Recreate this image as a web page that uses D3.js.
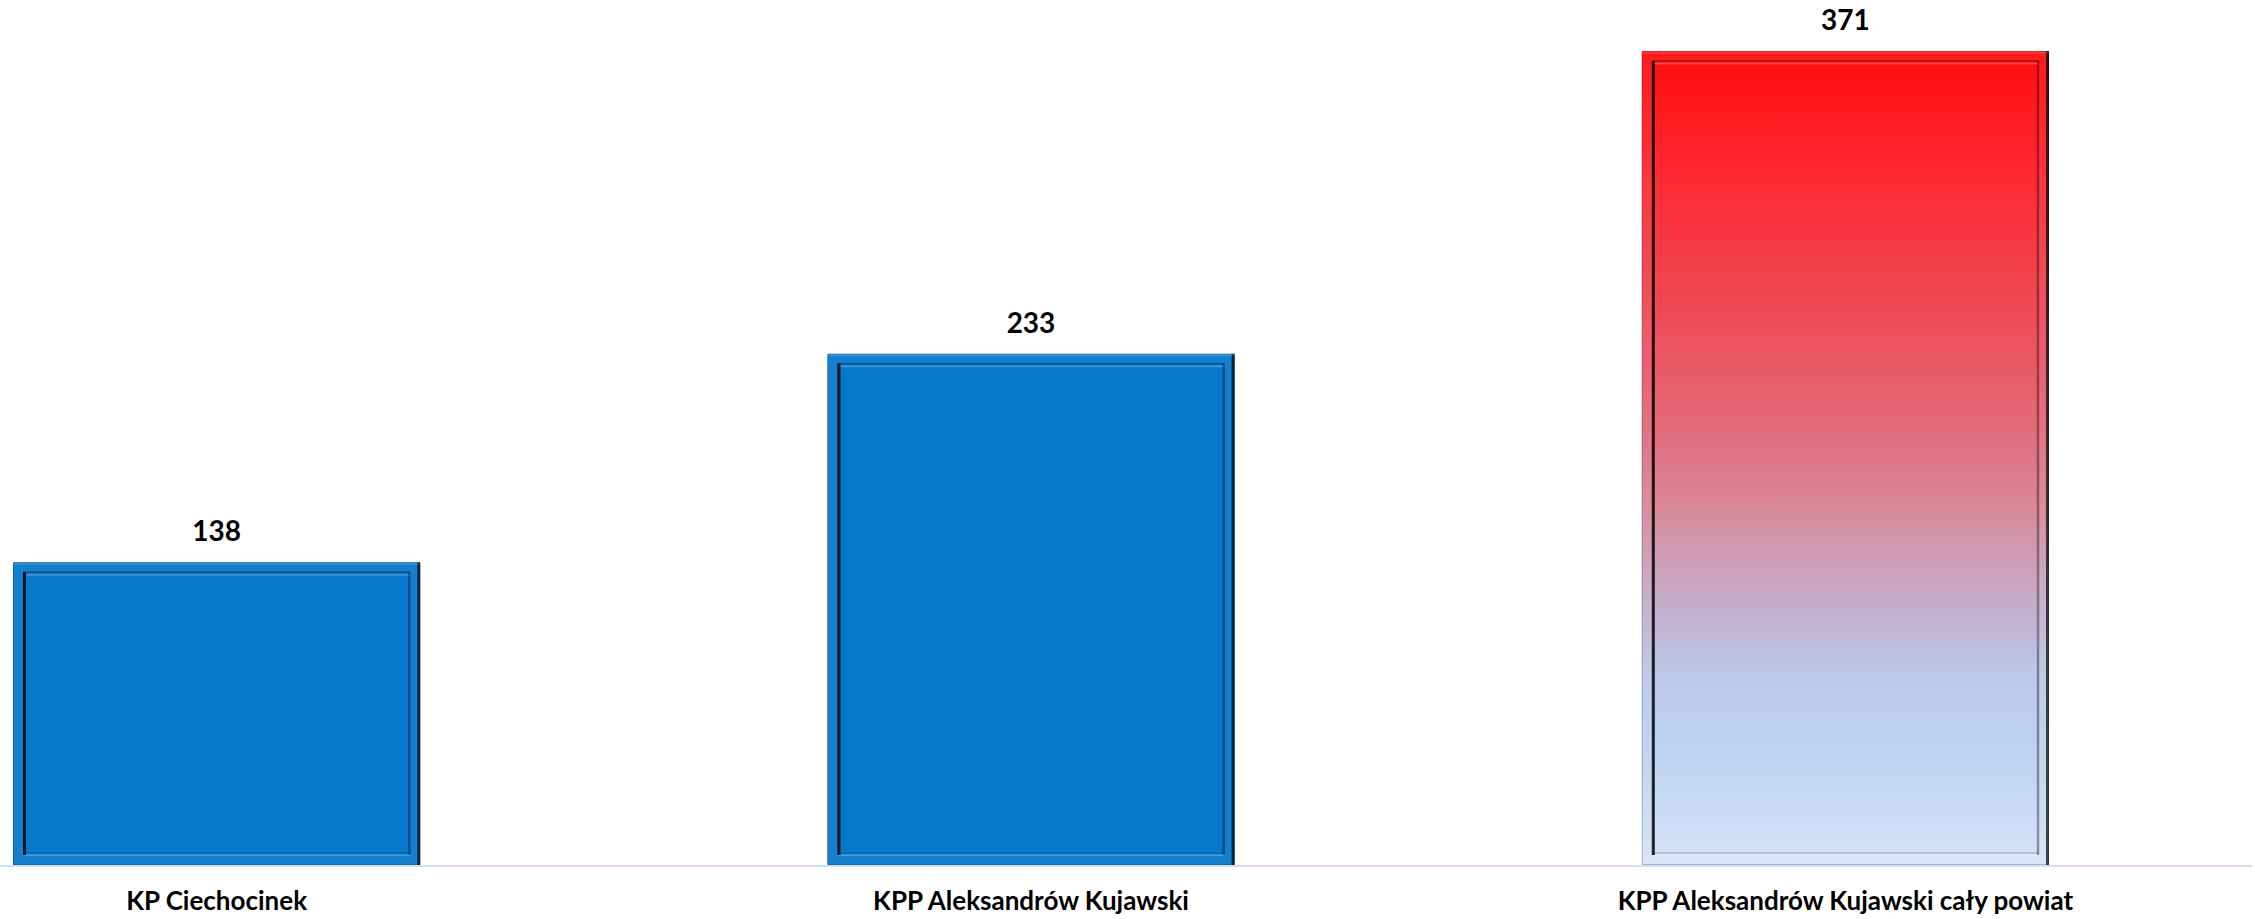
<!DOCTYPE html>
<html>
<head>
<meta charset="utf-8">
<script src="https://cdn.jsdelivr.net/npm/d3@7"></script>
<style>
html,body{margin:0;padding:0;background:#fff;}
svg{display:block;}
</style>
</head>
<body>
<svg id="chart" width="2255" height="919"></svg>
<script>
const categories = ["KP Ciechocinek", "KPP Aleksandrów Kujawski", "KPP Aleksandrów Kujawski cały powiat"];
const values = [138, 233, 371];
const fills = ["blue", "blue", "gradient"];

const W = 2255, H = 919;
const svg = d3.select("#chart");
const defs = svg.append("defs");

const grad = defs.append("linearGradient").attr("id", "redGrad")
  .attr("x1", 0).attr("y1", 0).attr("x2", 0).attr("y2", 1);
[[0, "#ff0c0c"], [0.15, "#ff2832"], [0.3, "#f04652"], [0.45, "#e46676"], [0.55, "#da8496"],
 [0.64, "#cca2ba"], [0.7, "#c2b4d2"], [0.77, "#bbc9e8"], [0.85, "#bdd2ef"], [0.93, "#c8dbf4"], [1, "#d6e5f9"]]
  .forEach(([o, c]) => grad.append("stop").attr("offset", o).attr("stop-color", c));

const x = d3.scaleBand().domain(categories).range([13, 2049]).paddingInner(0.5).paddingOuter(0);
const y = d3.scaleLinear().domain([0, 371]).range([865, 51]);

// baseline axis
svg.append("line").attr("x1", 0).attr("x2", 2252).attr("y1", y(0) + 1).attr("y2", y(0) + 1)
  .attr("stroke", "#d3def0").attr("stroke-width", 2);

const bw = x.bandwidth();
const inset = 10;

const bars = svg.selectAll("g.bar").data(categories).enter().append("g").attr("class", "bar");

bars.each(function(c, i) {
  const g = d3.select(this);
  const x0 = x(c), x1 = x0 + bw, y0 = y(values[i]), y1 = y(0);
  const fill = fills[i] === "blue" ? "#0678cc" : "url(#redGrad)";
  g.append("rect").attr("x", x0).attr("y", y0).attr("width", bw).attr("height", y1 - y0)
    .attr("fill", fill);
  g.append("path")
    .attr("d", `M${x0},${y0}H${x1}V${y1}H${x0}Z M${x0+inset},${y0+inset}V${y1-inset}H${x1-inset}V${y0+inset}Z`)
    .attr("fill", "rgba(255,255,255,0.06)").attr("fill-rule", "evenodd");
  g.append("rect").attr("x", x0 + 0.5).attr("y", y0 + 0.5).attr("width", bw - 1).attr("height", y1 - y0 - 1)
    .attr("fill", "none").attr("stroke", "rgba(0,40,80,0.25)").attr("stroke-width", 1);
  g.append("line").attr("x1", x0 + inset).attr("x2", x1 - inset).attr("y1", y0 + inset).attr("y2", y0 + inset)
    .attr("stroke", "rgba(0,0,0,0.28)").attr("stroke-width", 2);
  g.append("line").attr("x1", x0 + inset + 2).attr("x2", x1 - inset).attr("y1", y0 + inset + 2.5).attr("y2", y0 + inset + 2.5)
    .attr("stroke", "rgba(255,255,255,0.22)").attr("stroke-width", 2);
  g.append("line").attr("x1", x0 + inset).attr("x2", x1 - inset).attr("y1", y1 - inset - 2).attr("y2", y1 - inset - 2)
    .attr("stroke", "rgba(0,0,0,0.18)").attr("stroke-width", 1.5);
  g.append("line").attr("x1", x0 + inset).attr("x2", x1 - inset).attr("y1", y1 - inset).attr("y2", y1 - inset)
    .attr("stroke", "rgba(255,255,255,0.2)").attr("stroke-width", 2);
  g.append("line").attr("x1", x1 - inset - 1).attr("x2", x1 - inset - 1).attr("y1", y0 + inset).attr("y2", y1 - inset)
    .attr("stroke", "rgba(0,0,0,0.35)").attr("stroke-width", 2.5);
  g.append("line").attr("x1", x0 + inset + 1.5).attr("x2", x0 + inset + 1.5).attr("y1", y0 + inset).attr("y2", y1 - inset)
    .attr("stroke", "rgba(0,0,0,0.85)").attr("stroke-width", 3);
  g.append("line").attr("x1", x1 - 1.5).attr("x2", x1 - 1.5).attr("y1", y0).attr("y2", y1)
    .attr("stroke", "rgba(0,0,0,0.7)").attr("stroke-width", 3);
  g.append("line").attr("x1", x0).attr("x2", x1).attr("y1", y0 + 1.5).attr("y2", y0 + 1.5)
    .attr("stroke", "rgba(255,255,255,0.15)").attr("stroke-width", 2);
});

svg.selectAll("text.val").data(categories).enter().append("text").attr("class", "val")
  .attr("x", c => x(c) + bw / 2)
  .attr("y", (c, i) => y(values[i]) - 21)
  .attr("text-anchor", "middle")
  .attr("font-family", "Lato, 'Open Sans', sans-serif")
  .attr("font-weight", "bold")
  .attr("font-size", 28)
  .attr("fill", "#000")
  .text((c, i) => values[i]);

svg.selectAll("text.cat").data(categories).enter().append("text").attr("class", "cat")
  .attr("x", c => x(c) + bw / 2)
  .attr("y", y(0) + 45)
  .attr("text-anchor", "middle")
  .attr("font-family", "Lato, 'Open Sans', sans-serif")
  .attr("font-weight", "bold")
  .attr("font-size", 26)
  .attr("fill", "#000")
  .text(c => c);
</script>
</body>
</html>
